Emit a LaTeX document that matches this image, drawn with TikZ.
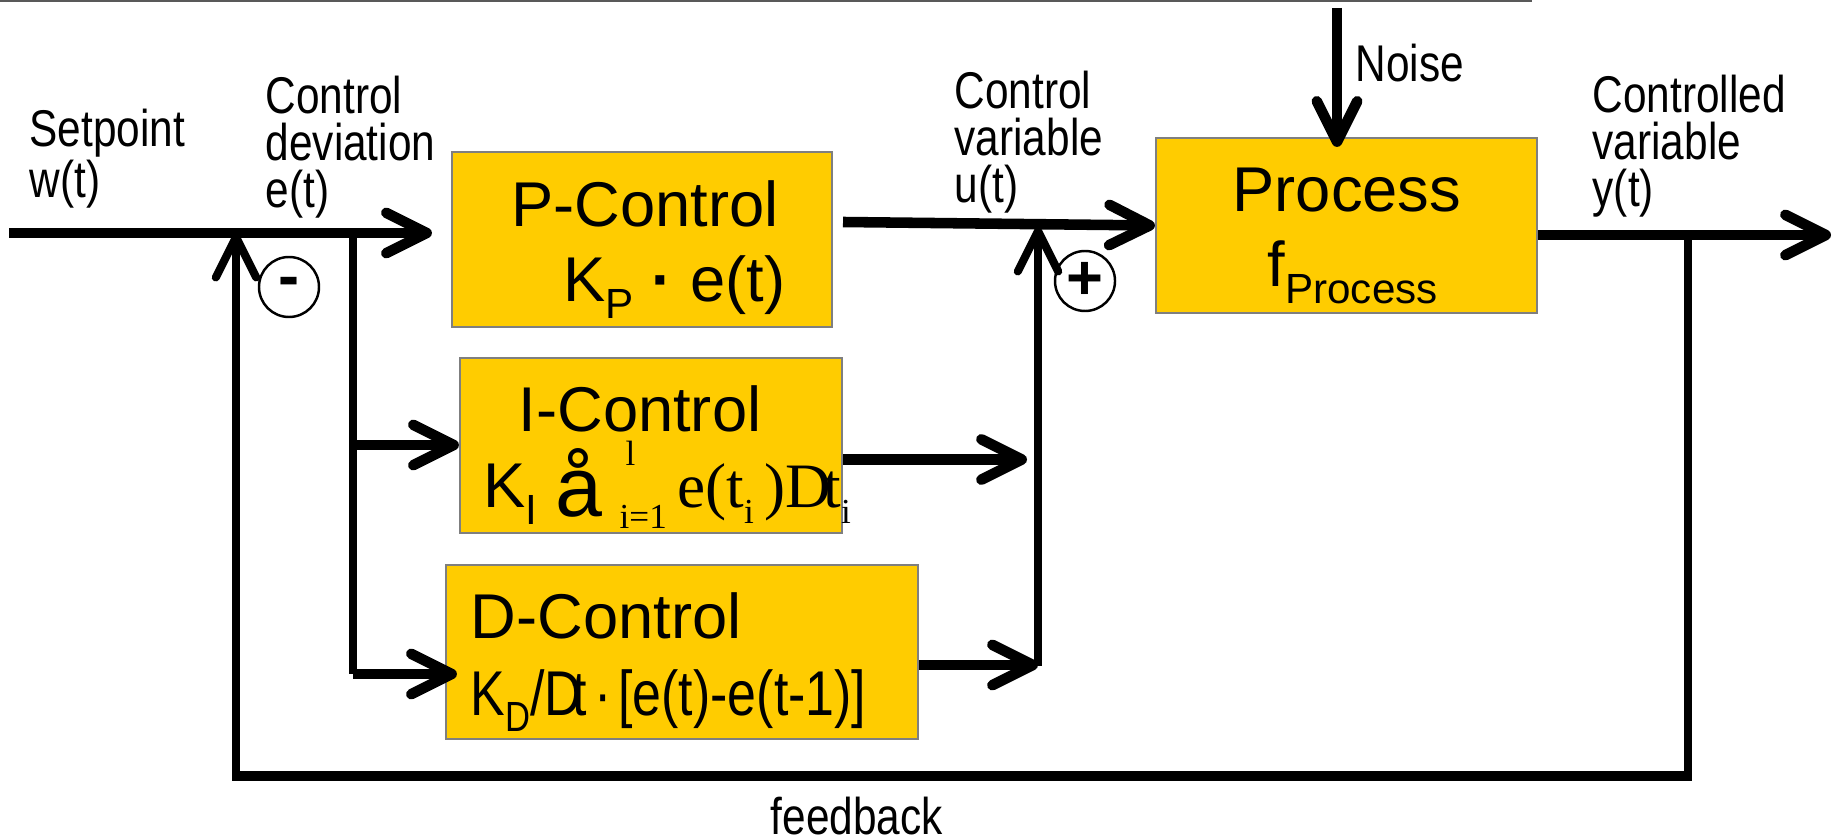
\documentclass[tikz,border=0pt]{standalone}
\usepackage{fontspec}
\setmainfont{Liberation Sans}
\newfontfamily\narrowfont[FakeStretch=0.82]{Liberation Sans}
\newfontfamily\timesfont{Liberation Serif}
\usetikzlibrary{arrows.meta}
\definecolor{boxfill}{HTML}{FFCC00}
\definecolor{boxline}{HTML}{7F7F7F}
\newcommand{\lowtxt}[1]{\raisebox{-0.26em}{\fontsize{12}{12}\selectfont #1}}
\newcommand{\lowidx}[1]{\raisebox{-4.3pt}{\fontsize{10}{10}\selectfont #1}}

\begin{document}
\begin{tikzpicture}[x=0.1mm, y=-0.1mm,
  wire/.style={line width=3pt},
  thinwire/.style={line width=2.3pt},
  arr/.style={-{Straight Barb[length=11.5pt,width=11.5pt,round]}},
  ctrlbox/.style={draw=boxline, line width=0.6pt, fill=boxfill, inner sep=0pt},
  sumsign/.style={draw, circle, line width=0.7pt, minimum size=6mm, inner sep=0pt, font=\fontsize{18}{18}\selectfont\bfseries},
  sigtext/.style={anchor=base west, inner sep=0pt, align=left, font=\narrowfont\fontsize{14.7}{13.4}\selectfont},
  boxtext/.style={anchor=base west, inner sep=0pt, font=\fontsize{18}{18}\selectfont}]
\useasboundingbox (0,0) rectangle (1835,840);
\draw [black!65, line width=0.6pt] (0,1) -- (1532,1);

% blocks
\node [ctrlbox, minimum width=3.80cm, minimum height=1.75cm] (pbox) at (642,239.5) {};
\node [ctrlbox, minimum width=3.82cm, minimum height=1.75cm] (ibox) at (651,445.5) {};
\node [ctrlbox, minimum width=4.72cm, minimum height=1.74cm] (dbox) at (682,652) {};
\node [ctrlbox, minimum width=3.81cm, minimum height=1.75cm] (proc) at (1346.5,225.5) {};

\node [boxtext] (ptitle) at (511,227) {P-Control};
\node [boxtext] (plaw) at (563,302) {K\lowtxt{P} \textbf{·} e(t)};
\node [boxtext] (ititle) at (518,432) {I-Control};
\node [boxtext] (ilaw) at (483,508) {K\lowtxt{I} \raisebox{-2.5pt}{\fontsize{24}{24}\selectfont å}\hspace{5pt}%
  {\timesfont\rlap{\raisebox{12.2pt}{\fontsize{10}{10}\selectfont\,l}}\raisebox{-5.7pt}{\fontsize{10}{10}\selectfont i=1}\hspace{3pt}e(t\lowidx{i}\,)D\kern-0.12em t\lowidx{i}}};
\node [boxtext] (dtitle) at (470,638) {D-Control};
\node [boxtext] (dlaw) at (470,715) {\narrowfont K\lowtxt{D}/D\kern-0.15em t\kern2pt·\kern2pt[e(t)-e(t-1)]};
\node [boxtext] (proctitle) at (1232,212) {Process};
\node [boxtext] (proclaw) at (1267,287) {f\lowtxt{Process}};

% summing points
\node [sumsign] (minus) at (289,287) {-};
\node [sumsign] (plus) at (1085,281) {+};

% signal names (base = last line)
\node [sigtext] (setp) at (29,198) {Setpoint\\w(t)};
\node [sigtext] (edev) at (265,208) {Control\\deviation\\e(t)};
\node [sigtext] (uvar) at (954,203) {Control\\variable\\u(t)};
\node [sigtext] (yvar) at (1592,207) {Controlled\\variable\\y(t)};
\node [sigtext] (noisetxt) at (1355,82) {Noise};
\node [sigtext] (fbtxt) at (770,834) {feedback};

% junctions
\coordinate (w) at (9,233);
\coordinate (wsum) at (236,233);
\coordinate (ebranch) at (353,233);
\coordinate (ibranch) at (353,445);
\coordinate (dbranch) at (353,674);
\coordinate (pout) at (843,222);
\coordinate (iout) at ([yshift=-1.4mm]ibox.east);
\coordinate (dout) at ([yshift=-1.3mm]dbox.east);
\coordinate (usum) at (1038,227);
\coordinate (ufoot) at (1038,666);
\coordinate (ytap) at (1688,235);
\coordinate (yend) at (1831,235);
\coordinate (fbr) at (1688,776);
\coordinate (fbl) at (236,776);
\coordinate (noise) at (1337,8);

% signal flow
\draw [wire, arr, shorten >=1.9mm] (w) -- (w -| pbox.west);
\draw [thinwire] (ebranch) -- (dbranch);
\draw [wire, arr] (ibranch) -- (ibranch -| ibox.west);
\draw [wire, arr, shorten >=-1.2mm] (dbranch) -- (dbranch -| dbox.west);
\draw [wire, arr] (pout) -- (proc.west);
\draw [wire, arr, shorten >=1.1mm] (iout) -- (iout -| ufoot);
\draw [wire, arr] (dout) -- (dout -| ufoot);
\draw [thinwire, arr] (ufoot) -- (usum);
\draw [wire, arr, shorten >=-1mm] (noise) -- (noise |- proc.north);
\draw [wire, arr] (proc.east |- ytap) -- (yend);

% feedback loop
\draw [thinwire] (ytap) -- (fbr);
\draw [wire] ([xshift=1.1pt]fbr) -- ([xshift=-1.1pt]fbl);
\draw [thinwire, arr] (fbl) -- (wsum);
\end{tikzpicture}
\end{document}
